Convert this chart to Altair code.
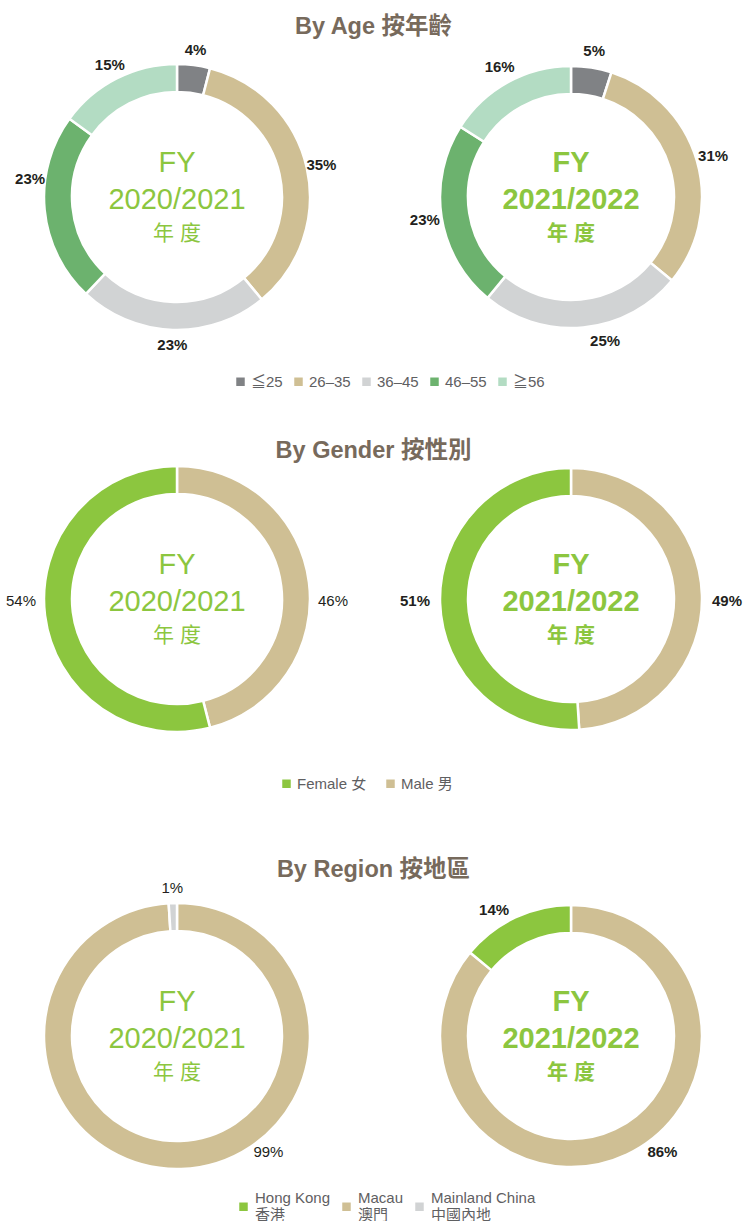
import altair as alt
import pandas as pd

# ---------------- data ----------------
periods = ["2020/2021", "2021/2022"]
section_titles = ["By Age 按年齡", "By Gender 按性別", "By Region 按地區"]

age_groups = ["≦25", "26–35", "36–45", "46–55", "≧56"]
age_share_2021 = [4, 35, 23, 23, 15]
age_share_2122 = [5, 31, 25, 23, 16]

genders = ["Female 女", "Male 男"]
gender_share_2021 = [54, 46]
gender_share_2122 = [51, 49]

regions = ["Hong Kong|香港", "Macau|澳門", "Mainland China|中國內地"]
region_share_2021 = [0, 99, 1]
region_share_2122 = [14, 86, 0]

# ---------------- style / layout ----------------
FONT = "Liberation Sans, Noto Sans CJK TC"
GREEN = "#8cc63f"
DARK = "#231f20"
TITLE_COLOR = "#776a5c"
LEGEND_TEXT = "#5f6062"

AGE_COLORS = ["#808285", "#cfbf94", "#d1d3d4", "#6cb26e", "#b3dcc3"]
GENDER_COLORS = ["#8cc63f", "#cfbf94"]
REGION_COLORS = ["#8cc63f", "#cfbf94", "#d1d3d4"]

AGE_STACK = age_groups
GENDER_STACK = ["Male 男", "Female 女"]
REGION_STACK = ["Macau|澳門", "Hong Kong|香港", "Mainland China|中國內地"]

# label placement (percent of full circle) where the design moves a label off its slice middle
AGE_LABEL_AT = [{"46–55": 76.9}, {"36–45": 46.3}]
GENDER_LABEL_AT = [{"Male 男": 25, "Female 女": 75}] * 2
REGION_LABEL_AT = [{"Macau|澳門": 39.4}, {"Macau|澳門": 39.4, "Hong Kong|香港": 91.3}]

FULL_W = 743
CENTERS_X = [177, 571]          # donut centres (pixels) for the two periods
OUTER = [133, 131]
INNER = [105, 103]


def row_frame(cats, shares, stack_order, label_at):
    parts = []
    for p, vals, over in zip(periods, shares, label_at):
        df = pd.DataFrame({"cat": cats, "value": vals})
        df["period"] = p
        df["stack"] = df["cat"].map({c: i for i, c in enumerate(stack_order)})
        df = df.sort_values("stack").reset_index(drop=True)
        df["end"] = df["value"].cumsum()
        df["start"] = df["end"] - df["value"]
        df["pos"] = df["start"] + df["value"] / 2
        df["pos"] = [over.get(c, v) for c, v in zip(df["cat"], df["pos"])]
        df["txt"] = df["value"].astype(str) + "%"
        parts.append(df)
    return pd.concat(parts, ignore_index=True)


def row(df, cats, colors, height, label_r, left_label_bold, label_dy=0):
    xenc = alt.X("period:N", axis=None,
                 scale=alt.Scale(type="point", domain=periods, range=CENTERS_X, padding=0))
    theta_scale = alt.Scale(domain=[0, 100])
    cdf = pd.DataFrame({"period": periods})
    layers = []
    for i, p in enumerate(periods):
        sel = f"datum.period == '{p}'"
        base = alt.Chart(df).transform_filter(sel).transform_filter("datum.value > 0")
        layers.append(base.mark_arc(
            outerRadius=OUTER[i], innerRadius=INNER[i], stroke="white", strokeWidth=2.5
        ).encode(
            x=xenc,
            theta=alt.Theta("start:Q", scale=theta_scale),
            theta2="end:Q",
            color=alt.Color("cat:N", scale=alt.Scale(domain=cats, range=colors), legend=None),
        ))
        bold = left_label_bold if i == 0 else True
        layers.append(base.mark_text(
            radius=label_r, font=FONT, fontSize=15, dy=label_dy,
            fontWeight="bold" if bold else "normal", color=DARK,
        ).encode(
            x=xenc,
            theta=alt.Theta("pos:Q", scale=theta_scale),
            text="txt:N",
        ))
        cw = "bold" if i == 1 else "normal"
        cb = alt.Chart(cdf).transform_filter(sel)
        layers.append(cb.mark_text(font=FONT, fontSize=29, fontWeight=cw, color=GREEN, dy=-34).encode(
            x=xenc, text=alt.value("FY")))
        layers.append(cb.mark_text(font=FONT, fontSize=29, fontWeight=cw, color=GREEN, dy=3).encode(
            x=xenc, text="period:N"))
        layers.append(cb.mark_text(font=FONT, fontSize=21, fontWeight=cw, color=GREEN, dy=37).encode(
            x=xenc, text=alt.value("年 度")))
    return alt.layer(*layers).properties(width=FULL_W, height=height)


def title_chart(text, height):
    return alt.Chart(pd.DataFrame({"t": [text]})).mark_text(
        font=FONT, fontSize=23.5, fontWeight="bold", color=TITLE_COLOR, dx=2, dy=1.5
    ).encode(text="t:N").properties(width=FULL_W, height=height)


def legend_chart(cats, colors, height, lx, ly, offset, colpad, multiline=False):
    kw = dict(
        title=None, orient="none", legendX=lx, legendY=ly, direction="horizontal",
        symbolType="square", symbolSize=72, symbolOpacity=1, symbolStrokeWidth=0,
        labelFont=FONT, labelFontSize=15, labelColor=LEGEND_TEXT,
        labelOffset=offset, columnPadding=colpad, labelLimit=300,
    )
    if multiline:
        kw["labelExpr"] = "split(datum.label, '|')"
        kw["labelBaseline"] = "line-bottom"
    return alt.Chart(pd.DataFrame({"cat": cats})).mark_square(opacity=0).encode(
        color=alt.Color("cat:N", scale=alt.Scale(domain=cats, range=colors), legend=alt.Legend(**kw))
    ).properties(width=FULL_W, height=height)


age_df = row_frame(age_groups, [age_share_2021, age_share_2122], AGE_STACK, AGE_LABEL_AT)
gender_df = row_frame(genders, [gender_share_2021, gender_share_2122], GENDER_STACK, GENDER_LABEL_AT)
region_df = row_frame(regions, [region_share_2021, region_share_2122], REGION_STACK, REGION_LABEL_AT)

chart = alt.vconcat(
    title_chart(section_titles[0], 50),
    row(age_df, age_groups, AGE_COLORS, 294, 148, True),
    legend_chart(age_groups, AGE_COLORS, 74, 233, 30, 3, 8),
    title_chart(section_titles[1], 62),
    row(gender_df, genders, GENDER_COLORS, 238, 156, False, label_dy=2),
    legend_chart(genders, GENDER_COLORS, 128, 279, 58, 3, 16),
    title_chart(section_titles[2], 44),
    row(region_df, regions, REGION_COLORS, 292, 148, False),
    legend_chart(regions, REGION_COLORS, 39, 236, 17, 4, 8, multiline=True),
    spacing=0, bounds="flush",
).resolve_scale(color="independent", theta="independent", x="independent").properties(
    padding=0, background="white"
).configure_view(stroke=None)

chart.save("out.html", embed_options={"renderer": "svg", "actions": False})
